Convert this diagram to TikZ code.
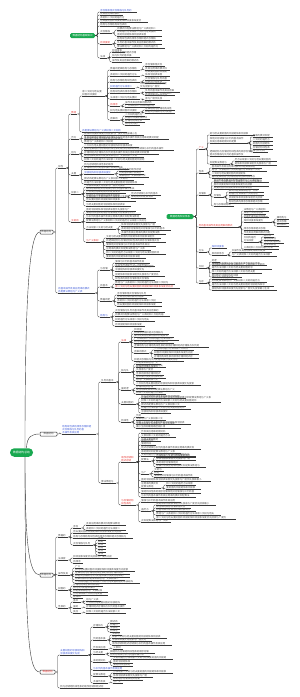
\documentclass[tikz,border=0pt]{standalone}
\usepackage{fontspec}
\setmainfont{Noto Sans CJK SC}
\usepackage{xstring}
\usetikzlibrary{calc}
\definecolor{tg}{HTML}{4A4A4A}
\definecolor{tb}{HTML}{3F5BD8}
\definecolor{tr}{HTML}{E53935}
\definecolor{lc}{HTML}{383838}
\definecolor{gr}{HTML}{19A850}
\def\poolA{数据的逻辑结构与存储结构线性表的顺序存储和链式存储栈与队列的基本操作及其应用串的模式匹配算法数组与广义表树和二叉树的遍历方法线索二叉树与哈夫曼树图的邻接矩阵和邻接表深度优先搜索与广度优先搜索最小生成树最短路径拓扑排序关键路径顺序查找折半查找二叉排序树平衡二叉树散列表插入排序交换排序选择排序归并排序基数排序算法的时间复杂度与空间复杂度分析}
\edef\pool{\poolA\poolA}
\newcounter{lfc}
\newcommand\mktext[2]{%
  \stepcounter{lfc}%
  \pgfmathtruncatemacro\nn{max(1,#1/2.7)}%
  \pgfmathtruncatemacro\tsa{mod(\arabic{lfc}*17,80)+1}%
  \pgfmathtruncatemacro\tea{\tsa+\nn-1}%
  \StrMid{\pool}{\tsa}{\tea}[\lfa]%
  \ifnum#2>1
    \pgfmathtruncatemacro\tsb{\tea+1}%
    \pgfmathtruncatemacro\teb{\tsb+max(0,\nn*0.8-1)}%
    \StrMid{\pool}{\tsb}{\teb}[\lfb]%
    \ifnum#2>2
      \pgfmathtruncatemacro\tsc{\teb+1}%
      \pgfmathtruncatemacro\tec{\tsc+max(0,\nn*0.6-1)}%
      \StrMid{\pool}{\tsc}{\tec}[\lfcc]%
      \edef\lftext{\lfa\noexpand\\\lfb\noexpand\\\lfcc}%
    \else
      \edef\lftext{\lfa\noexpand\\\lfb}%
    \fi
  \else
    \let\lftext\lfa
  \fi
}
% name, parent, y, width, lines, colour
\newcommand\Lf[6]{%
  \mktext{#4}{#5}%
  \path let \p1=(#2-e) in node[leaf,text=#6] (#1) at (\x1+5pt,-#3pt) {\lftext};
  \draw[ul] (#1.south west) -- ++(#4pt,0pt) coordinate (#1-e);
  \draw[conn] let \p1=(#2-e), \p2=(#1.south west) in (\p1) -- (\x1+2.5pt,\y1) -- (\x1+2.5pt,\y2) -- (\p2);
}
\newcommand\Kds[3]{\foreach \fy/\fw/\fl in {#3}{\Lf{#2\fy}{#1}{\fy}{\fw}{\fl}{tg}}}
\begin{document}
\begin{tikzpicture}[x=1pt,y=-1pt,
  conn/.style={draw=lc,line width=0.4pt,rounded corners=1.2pt},
  ul/.style={draw=lc,line width=0.4pt},
  leaf/.style={anchor=south west,inner xsep=0pt,inner ysep=0.3pt,align=left,font=\fontsize{2.4}{2.9}\selectfont},
  box/.style={draw=lc,line width=0.5pt,fill=white,rounded corners=0.8pt,minimum width=13pt,minimum height=4pt,inner sep=0.5pt,font=\fontsize{2.5}{3}\selectfont,text=tg},
  gnode/.style={fill=gr,text=white,rounded corners=1.5pt,minimum height=5pt,inner sep=0.6pt,font=\fontsize{2.5}{3}\selectfont}]
\useasboundingbox (0,0) rectangle (300,697);

% ---------- root and main branches ----------
\node[gnode,minimum width=23pt,minimum height=8.5pt,rounded corners=4.2pt,font=\fontsize{2.8}{3}\selectfont] (R) at (21.5,452.5) {数据结构总结};
\node[box] (A) at (46.5,232) {数据结构};
\node[box,minimum width=17pt] (B) at (48.5,434) {数据结构};
\node[box] (C) at (46.5,575) {数据结构};
\node[box,minimum width=15pt,text=tr] (D) at (47.5,672) {数据结构};
\foreach \n in {A,B,C,D} {\coordinate (\n-e) at (\n.east);}
\draw[conn] ([xshift=3.5pt]R.north) .. controls (25,300) and (29,232) .. (A.west);
\draw[conn] ([xshift=5pt]R.north) .. controls (27,436) and (32,434) .. (B.west);
\draw[conn] ([xshift=3.5pt]R.south) .. controls (25,545) and (29,575) .. (C.west);
\draw[conn] ([xshift=3.5pt]R.south) .. controls (25,640) and (29,672) .. (D.west);

% ---------- floating topic G1 ----------
\node[gnode,minimum width=25pt] (G1) at (82.5,35.5) {数据结构基础知识};
\coordinate (G1-e) at (G1.east);
\Lf{Xg1}{G1}{12}{37}{1}{tb}
\Kds{G1}{g}{15/23/1,19/27/1,22/48/1,26/30/1}
\Lf{Xg6}{G1}{33}{12}{1}{tg}
\Kds{Xg6}{ga}{30/45/1,36/45/2}
\Lf{Xg7}{G1}{44}{12}{1}{tr}
\Kds{Xg7}{gb}{40/45/1,44/45/1,48/48/1}
\Lf{Xg8}{G1}{58}{7}{1}{tg}
\Kds{Xg8}{gc}{52/13/1,57/28/2,62/30/1}

% ---------- floating topic G2 ----------
\node[gnode,minimum width=27pt] (G2) at (180,216.5) {数据结构知识体系};
\coordinate (G2-e) at (G2.east);
\Lf{Hh1}{G2}{149}{6}{1}{tr}
\Kds{Hh1}{ha}{135/45/1,156/50/2}
\Lf{Hh1b}{Hh1}{143}{38}{2}{tg}
\Kds{Hh1b}{hb}{137/20/1,141/20/1,145/20/1,149/20/1,152/15/1}
\Lf{Hh1c}{Hh1}{164}{20}{1}{tg}
\Kds{Hh1c}{hc}{161/42/1,165/42/1}
\Lf{Hh2}{G2}{173}{8}{1}{tg}
\Kds{Hh2}{hd}{168/50/1,171/55/1,175/40/1,178/50/1}
\Lf{Hh3}{G2}{195}{10}{1}{tg}
\Kds{Hh3}{he}{182/55/1,186/55/2,189/45/1,206/20/1}
\Lf{Hh3b}{Hh3}{197}{10}{1}{tg}
\Kds{Hh3b}{hf}{192/35/1,195/35/1,199/40/1,203/40/1}
\Lf{Hh4}{G2}{227}{40}{1}{tr}
\Kds{Hh4}{hg}{211/25/1,214/22/1,217/25/1,230/25/1,234/30/1,249/35/1}
\Lf{Hh4b}{Hh4}{222}{28}{2}{tg}
\Kds{Hh4b}{hh}{219/12/1,223/12/1,226/12/1}
\Lf{Hh4c}{Hh4}{242}{15}{2}{tg}
\Kds{Hh4c}{hi}{237/10/1,240/15/1,243/20/1,246/15/1}
\Lf{Hh5}{G2}{252}{8}{1}{tg}
\Lf{Hh5a}{Hh5}{248}{15}{1}{tb}
\Lf{Hh5b}{Hh5}{255}{15}{1}{tg}
\Kds{Hh5b}{hj}{252/40/1,256/45/1}
\Lf{Hh6}{G2}{268}{8}{1}{tg}
\Kds{Hh6}{hk}{262/8/1,265/55/1,269/60/2,273/50/1,277/30/1}
\Lf{Hh7}{G2}{283}{8}{1}{tg}
\Kds{Hh7}{hl}{279/25/1,282/55/1,286/62/1,290/65/1}

% ---------- branch A ----------
\Lf{P1}{A}{168}{8}{1}{tg}
\Lf{P2}{A}{293}{37}{2}{tb}
\Lf{Q1}{P1}{114}{6}{1}{tr}
\Lf{R1}{Q1}{96}{23}{2}{tg}
\Lf{S1}{R1}{70}{30}{1}{tg}
\Kds{S1}{sa}{66/20/1,70/25/1}
\Lf{S2}{R1}{76}{30}{1}{tg}
\Kds{S2}{sb}{76/25/2}
\Lf{S3}{R1}{82}{30}{1}{tg}
\Kds{S3}{sc}{80/25/1,83/20/1}
\Lf{S4}{R1}{88}{25}{1}{tb}
\Kds{S4}{sd}{88/30/2}
\Lf{S5}{R1}{93}{30}{1}{tg}
\Kds{S5}{se}{92/35/1,95/30/1}
\Lf{S6}{R1}{99}{30}{1}{tg}
\Kds{S6}{sf}{100/25/2}
\Lf{S7}{R1}{106}{10}{1}{tr}
\Kds{S7}{sg}{104/30/1,107/35/1}
\Lf{S8}{R1}{112}{30}{1}{tg}
\Kds{S8}{sh}{110/30/1,113/30/1}
\Lf{S9}{R1}{120}{10}{1}{tg}
\Kds{S9}{si}{116/20/1,119/25/1,122/20/1,125/15/1}
\Lf{R2}{Q1}{132}{45}{1}{tb}
\Lf{Q2}{P1}{139}{8}{1}{tg}
\Kds{Q2}{qb}{135/60/1,139/85/1,143/45/2}
\Lf{Q3}{P1}{154}{8}{1}{tg}
\Kds{Q3}{qc}{147/55/1,150/90/1,154/75/1,157/60/1,161/70/1}
\Lf{Q4}{P1}{175}{8}{1}{tg}
\Kds{Q4}{qd}{166/35/1,169/45/1,180/50/1,184/60/1}
\Lf{Q4b}{Q4}{174}{30}{1}{tb}
\Kds{Q4b}{qe}{171/25/1,174/25/1,177/30/1}
\Lf{Q5}{P1}{194}{10}{1}{tg}
\Kds{Q5}{qf}{187/45/1,190/55/1,193/40/1,201/50/2,206/45/1}
\Lf{Q5b}{Q5}{197}{40}{1}{tg}
\Kds{Q5b}{qg}{195/30/1,198/25/1}
\Lf{Q6}{P1}{222}{10}{1}{tr}
\Kds{Q6}{qh}{211/50/1,214/55/1,218/60/1,222/70/1}
\Lf{Q6b}{Q6}{229}{30}{1}{tg}
\Kds{Q6b}{qi}{226/40/1,230/50/1,234/45/1}
\Lf{Q6c}{Q6}{242}{15}{1}{tr}
\Kds{Q6c}{qj}{238/55/1,242/60/1,246/50/1,250/45/1,254/60/1,258/40/1}
\Lf{T1}{P2}{270}{10}{1}{tg}
\Kds{T1}{ta}{263/35/1,266/40/1,271/45/2,276/50/1,280/40/1}
\Lf{T2}{P2}{287}{10}{1}{tg}
\Kds{T2}{tq}{284/60/1}
\Lf{T2b}{T2}{288}{65}{1}{tr}
\Lf{T3}{P2}{301}{12}{1}{tg}
\Kds{T3}{tc}{295/35/1,298/30/1,302/45/1,306/45/1}
\Lf{T4}{P2}{317}{10}{1}{tb}
\Kds{T4}{td}{312/50/1,316/55/1,321/40/1,326/30/1}

% ---------- branch B ----------
\Lf{B1}{B}{434}{34}{3}{tb}
\Lf{U1}{B1}{382}{15}{1}{tg}
\Lf{U2}{B1}{483}{15}{1}{tg}
\Lf{V1}{U1}{342}{8}{1}{tr}
\Kds{V1}{va}{331/10/1,334/35/1,337/40/1,340/45/1,343/40/1,347/75/1,361/50/1}
\Lf{V1b}{V1}{353}{15}{1}{tg}
\Kds{V1b}{vb}{350/40/1,354/45/1,358/45/1}
\Lf{V2}{U1}{372}{10}{1}{tg}
\Kds{V2}{vc}{364/25/1,367/30/1,371/25/2,375/28/1,378/30/1,381/25/1,385/65/1}
\Lf{V3}{U1}{390}{10}{1}{tg}
\Kds{V3}{vd}{388/20/1,391/45/1,394/30/1}
\Lf{V4}{U1}{404}{15}{1}{tg}
\Kds{V4}{ve}{398/45/1,402/80/2,406/45/1,409/50/1,413/30/1}
\Lf{V5}{U1}{422}{10}{1}{tg}
\Kds{V5}{vf}{417/8/1,420/30/1,424/55/1,428/45/2}
\Lf{W1}{U2}{462}{15}{2}{tr}
\Kds{W1}{wa}{433/28/1,437/35/1,441/20/1,445/15/2,449/60/1,453/40/1,456/55/1,481/70/1,493/60/1,497/55/1}
\Lf{W1b}{W1}{461}{10}{1}{tg}
\Kds{W1b}{wb}{457/40/1,460/40/1,464/25/1,467/50/1}
\Lf{W1c}{W1}{474}{8}{1}{tg}
\Kds{W1c}{wc}{471/10/1,474/8/1,477/45/1}
\Lf{W1d}{W1}{488}{20}{2}{tg}
\Kds{W1d}{wd}{485/30/1,489/35/1}
\Lf{W2}{U2}{505}{15}{2}{tr}
\Kds{W2}{we}{502/40/1,522/30/1}
\Lf{W2b}{W2}{511}{10}{1}{tg}
\Kds{W2b}{wf}{505/60/1,508/35/1,511/40/1,515/65/1,519/80/1}

% ---------- branch C ----------
\Lf{Cc1}{C}{537}{10}{1}{tg}
\Lf{Cc1a}{Cc1}{528}{8}{1}{tg}
\Kds{Cc1a}{ca}{525/40/1,530/40/1}
\Kds{Cc1}{cb}{533/55/1,538/60/1}
\Lf{Cc1b}{Cc1}{545}{20}{1}{tg}
\Kds{Cc1b}{cc}{540/8/1,543/8/1,546/8/1,549/8/1,552/8/1,555/8/1}
\Lf{Cc2}{C}{560}{10}{1}{tg}
\Kds{Cc2}{cd}{558/45/1,563/10/1}
\Lf{Cc3}{C}{575}{12}{1}{tg}
\Kds{Cc3}{ce}{568/8/1,571/60/1,574/55/1,577/55/1,580/50/1,583/65/1}
\Lf{Cc4}{C}{590}{10}{1}{tg}
\Kds{Cc4}{cf}{586/30/1,589/25/1,592/35/1,595/35/1,598/10/1}
\Lf{Cc5}{C}{608}{10}{1}{tg}
\Lf{Cc5a}{Cc5}{602}{8}{1}{tg}
\Kds{Cc5a}{cg}{601/15/1,604/40/1}
\Lf{Cc5b}{Cc5}{608}{8}{1}{tg}
\Kds{Cc5b}{ch}{608/45/1}
\Lf{Cc5c}{Cc5}{613}{8}{1}{tg}
\Kds{Cc5c}{ci}{613/40/1}

% ---------- branch D ----------
\Lf{Dd1}{D}{655}{28}{2}{tb}
\Lf{Dd2}{D}{688}{50}{1}{tg}
\Lf{E1}{Dd1}{627}{12}{1}{tg}
\Kds{E1}{ea}{623/10/1,626/10/1,629/10/1,632/10/1}
\Lf{E2}{Dd1}{640}{14}{1}{tg}
\Kds{E2}{eb}{635/10/1,638/55/1,641/40/1,645/60/1}
\Lf{E3}{Dd1}{649}{15}{1}{tg}
\Kds{E3}{ec}{649/10/1}
\Lf{E4}{Dd1}{654}{12}{1}{tg}
\Kds{E4}{ed}{653/45/1,656/40/1}
\Lf{E5}{Dd1}{662}{15}{1}{tg}
\Kds{E5}{ee}{659/60/1,663/20/1,666/20/1}
\Lf{E6}{Dd1}{670}{35}{1}{tb}
\Lf{E7}{Dd1}{676}{15}{1}{tg}
\Kds{E7}{ef}{673/60/1,677/40/1,680/30/1}
\Lf{E8}{Dd1}{683}{15}{1}{tg}
\Kds{E8}{eg}{683/10/1}
\end{tikzpicture}
\end{document}
